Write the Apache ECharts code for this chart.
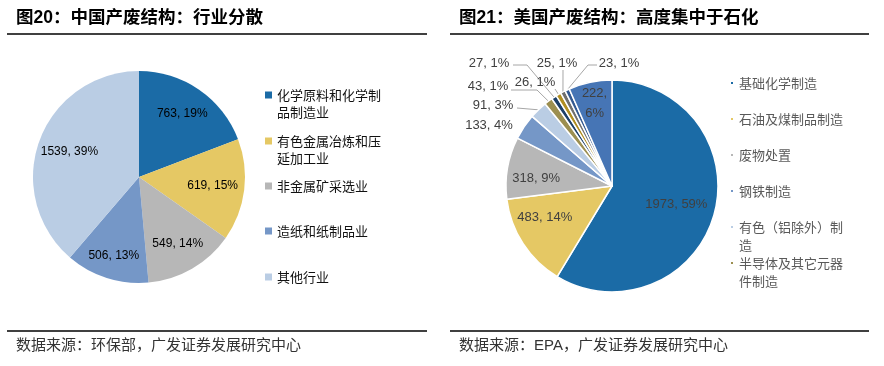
<!DOCTYPE html>
<html>
<head>
<meta charset="utf-8">
<script src="https://cdn.jsdelivr.net/npm/echarts@6/dist/echarts.min.js"></script>
<style>
html,body{margin:0;padding:0;background:#fff;}
#main{width:884px;height:366px;}
</style>
</head>
<body>
<div id="main"></div>
<script>
// ---------- DATA ----------
const leftTitle = '图20：中国产废结构：行业分散';
const rightTitle = '图21：美国产废结构：高度集中于石化';
const leftSource = '数据来源：环保部，广发证券发展研究中心';
const rightSource = '数据来源：EPA，广发证券发展研究中心';

const leftNames = ['化学原料和化学制品制造业', '有色金属冶炼和压延加工业', '非金属矿采选业', '造纸和纸制品业', '其他行业'];
const leftValues = [763, 619, 549, 506, 1539];

const rightNames = ['基础化学制造', '石油及煤制品制造', '废物处置', '钢铁制造', '有色（铝除外）制造', '半导体及其它元器件制造',
                    '其他1', '其他2', '其他3', '其他4', '其他5'];
const rightValues = [1973, 483, 318, 133, 91, 43, 27, 26, 25, 23, 222];
const rightLegendNames = rightNames.slice(0, 6);

// legend display text (wrapped as in the reference)
const legendText = {
  '化学原料和化学制品制造业': '化学原料和化学制\n品制造业',
  '有色金属冶炼和压延加工业': '有色金属冶炼和压\n延加工业',
  '有色（铝除外）制造': '有色（铝除外）制\n造',
  '半导体及其它元器件制造': '半导体及其它元器\n件制造'
};

// ---------- STYLE / LAYOUT ----------
const FONT_CJK = '"Noto Sans CJK SC", "Noto Sans", sans-serif';
const FONT_MIX = '"Liberation Sans", "Noto Sans CJK SC", sans-serif';
const FONT_NUM = '"Liberation Sans", Arial, sans-serif';
const leftColors = ['#1B6BA6', '#E5C864', '#B7B7B7', '#7597C7', '#BACDE4'];
const rightColors = ['#1B6BA6', '#E5C864', '#B7B7B7', '#7597C7', '#BACDE4', '#9C8F50',
                     '#1C3F68', '#B08E22', '#6F6F6F', '#345A92', '#4675B5'];
const LC = [139, 177], LR = 106;
const RC = [612, 186], RR = 106;
const leftLabelFrac = [0.72, 0.70, 0.73, 0.78, 0.70];
const rightInside = {0: [null, 0.63], 1: [245, 0.70], 2: [276, 0.72], 10: [null, 0.80]};
const rightOutside = {
  3: {pos: [489, 125], line: null},
  4: {pos: [493, 105], line: [[517, 108]]},
  5: {pos: [488, 86], line: [[537, 90], [511, 90]]},
  6: {pos: [489, 63], line: [[527, 65], [513, 65]]},
  7: {pos: [535, 82], line: [[555, 89]]},
  8: {pos: [557, 63], line: [[563, 70]]},
  9: {pos: [619, 63], line: [[588, 65], [597, 65]]}
};
const leftLegendPos = [95, 141, 186, 231, 277];
const rightLegendPos = [83, 119, 155, 191, 227, 263];

function sliceMid(values, i) {
  const total = values.reduce((a, b) => a + b, 0);
  let cum = 0;
  for (let k = 0; k < i; k++) cum += values[k];
  return (cum + values[i] / 2) / total * 360;
}
function polar(c, r, deg) {
  const a = deg * Math.PI / 180;
  return [c[0] + r * Math.sin(a), c[1] - r * Math.cos(a)];
}

function makeLegends(names, tops, opt) {
  return names.map((n, i) => {
    const txt = legendText[n] || n;
    const lines = txt.split('\n').length;
    const L = opt.lh;
    const top = tops[i] - (lines === 1 ? L / 2 : (lines + 1) * L / 2);
    return {
      data: [n], left: opt.left, top: top, orient: 'vertical', padding: 0,
      icon: 'rect', itemWidth: opt.icon, itemHeight: opt.icon, selectedMode: false,
      // a leading empty line keeps the marker level with the first text line
      formatter: nm => (legendText[nm] ? '\n' + legendText[nm] : nm),
      textStyle: {fontSize: 13, color: opt.color, fontFamily: FONT_CJK, lineHeight: L}
    };
  });
}

const leftData = leftNames.map((n, i) => ({name: n, value: leftValues[i]}));
const rightData = rightNames.map((n, i) => {
  const out = rightOutside[i];
  const d = {name: n, value: rightValues[i]};
  if (out) {
    d.label = {position: 'outside'};
    d.labelLine = {show: !!out.line};
  } else {
    d.label = {position: 'inside'};
    d.labelLine = {show: false};
  }
  if (i === 10) d.label.formatter = '{c},\n{d}%';
  return d;
});

const chart = echarts.init(document.getElementById('main'), null, {renderer: 'canvas'});
chart.setOption({
  animation: false,
  color: rightColors,
  title: [
    {text: leftTitle, left: 16, top: 9, padding: 0,
     textStyle: {fontSize: 17.5, fontWeight: 'bold', color: '#000', fontFamily: FONT_MIX}},
    {text: rightTitle, left: 459, top: 9, padding: 0,
     textStyle: {fontSize: 17.5, fontWeight: 'bold', color: '#000', fontFamily: FONT_MIX}},
    {text: leftSource, left: 16, top: 338, padding: 0,
     textStyle: {fontSize: 15, fontWeight: 'normal', color: '#333', fontFamily: FONT_MIX}},
    {text: rightSource, left: 459, top: 338, padding: 0,
     textStyle: {fontSize: 15, fontWeight: 'normal', color: '#333', fontFamily: FONT_MIX}}
  ],
  graphic: [
    {type: 'line', shape: {x1: 7, y1: 34, x2: 427, y2: 34}, style: {stroke: '#000', lineWidth: 1.5}},
    {type: 'line', shape: {x1: 450, y1: 34, x2: 869, y2: 34}, style: {stroke: '#000', lineWidth: 1.5}},
    {type: 'line', shape: {x1: 7, y1: 331, x2: 427, y2: 331}, style: {stroke: '#000', lineWidth: 1.5}},
    {type: 'line', shape: {x1: 450, y1: 331, x2: 869, y2: 331}, style: {stroke: '#000', lineWidth: 1.5}}
  ],
  legend: makeLegends(leftNames, leftLegendPos, {left: 265, icon: 7, lh: 17, color: '#111'})
    .concat(makeLegends(rightLegendNames, rightLegendPos, {left: 729, icon: 4, lh: 18, color: '#595959'})),
  series: [
    {
      type: 'pie', name: 'left', center: LC, radius: [0, LR], startAngle: 90, clockwise: true,
      percentPrecision: 0, avoidLabelOverlap: false, color: leftColors,
      itemStyle: {borderWidth: 0},
      label: {show: true, position: 'inside', formatter: '{c}, {d}%', fontSize: 12,
              color: '#000', fontFamily: FONT_NUM},
      labelLine: {show: false},
      emphasis: {disabled: true},
      labelLayout: p => {
        const a = sliceMid(leftValues, p.dataIndex);
        const pt = polar(LC, LR * leftLabelFrac[p.dataIndex], a);
        return {x: pt[0], y: pt[1], align: 'center', verticalAlign: 'middle'};
      },
      data: leftData
    },
    {
      type: 'pie', name: 'right', center: RC, radius: [0, RR], startAngle: 90, clockwise: true,
      percentPrecision: 0, avoidLabelOverlap: false, color: rightColors,
      itemStyle: {borderColor: '#fff', borderWidth: 1.5},
      label: {show: true, formatter: '{c}, {d}%', fontSize: 13, color: '#404040',
              fontFamily: FONT_NUM, lineHeight: 20},
      labelLine: {show: true, length: 5, length2: 5, lineStyle: {color: '#A6A6A6', width: 1}},
      emphasis: {disabled: true},
      labelLayout: p => {
        const i = p.dataIndex;
        const a = sliceMid(rightValues, i);
        if (rightInside[i]) {
          const cfg = rightInside[i];
          const pt = polar(RC, RR * cfg[1], cfg[0] == null ? a : cfg[0]);
          return {x: pt[0], y: pt[1], align: 'center', verticalAlign: 'middle'};
        }
        const o = rightOutside[i];
        const res = {x: o.pos[0], y: o.pos[1], align: 'center', verticalAlign: 'middle'};
        if (o.line) res.labelLinePoints = [polar(RC, RR, a)].concat(o.line);
        return res;
      },
      data: rightData
    }
  ]
});
</script>
</body>
</html>
